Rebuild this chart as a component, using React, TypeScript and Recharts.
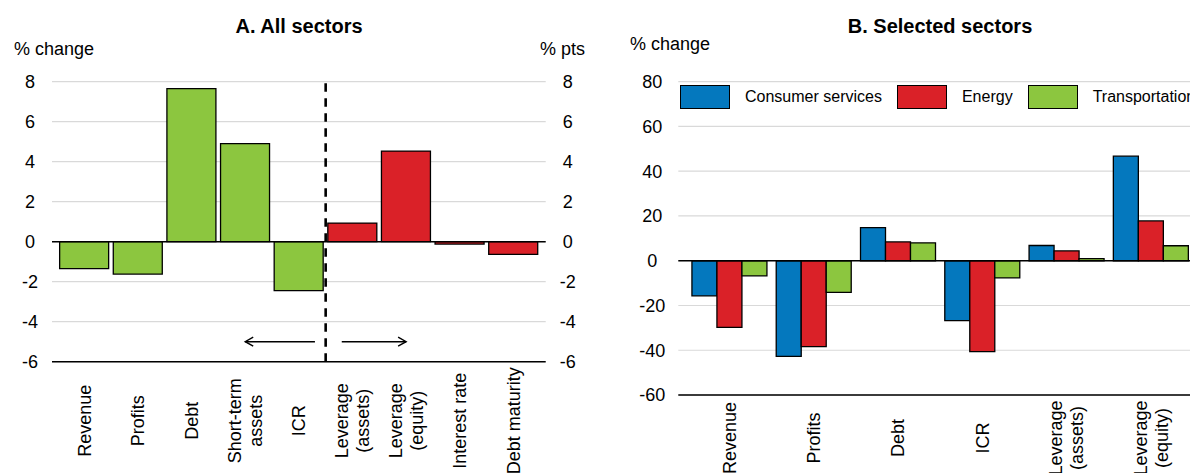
import {
  BarChart,
  Bar,
  Cell,
  XAxis,
  YAxis,
  CartesianGrid,
  ReferenceLine,
  Legend,
} from "recharts";

const FONT = '"Liberation Sans", Arial, Helvetica, sans-serif';
const GREEN = "#8CC63F";
const RED = "#DA2128";
const BLUE = "#0478BE";
const GRID = "#D9D9D9";

// Panel A: all sectors
const categoriesA = [
  "Revenue",
  "Profits",
  "Debt",
  "Short-term\nassets",
  "ICR",
  "Leverage\n(assets)",
  "Leverage\n(equity)",
  "Interest rate",
  "Debt maturity",
];
const valuesA = [-1.35, -1.62, 7.65, 4.9, -2.45, 0.93, 4.53, -0.12, -0.63];
const unitsA = ["chg", "chg", "chg", "chg", "chg", "pts", "pts", "pts", "pts"];
const ticksA = [-6, -4, -2, 0, 2, 4, 6, 8];

// Panel B: selected sectors
const categoriesB = [
  "Revenue",
  "Profits",
  "Debt",
  "ICR",
  "Leverage\n(assets)",
  "Leverage\n(equity)",
];
const consumerServices = [-15.7, -42.7, 14.8, -26.8, 6.8, 46.7];
const energy = [-29.8, -38.4, 8.4, -40.6, 4.4, 17.8];
const transportation = [-6.8, -14.1, 8.0, -7.7, 0.9, 6.7];
const ticksB = [-60, -40, -20, 0, 20, 40, 60, 80];

// the dashed divider sits where the % pts group starts
const firstPts = categoriesA[unitsA.indexOf("pts")];
const ARROW_Y = -5;

const dataA = categoriesA.map((name, i) => ({ name, value: valuesA[i], unit: unitsA[i] }));
const dataB = categoriesB.map((name, i) => ({
  name,
  consumer: consumerServices[i],
  energy: energy[i],
  transport: transportation[i],
}));

function YTick(props: any) {
  const { x, y, payload } = props;
  return (
    <text x={x} y={y} dy="0.35em" textAnchor="middle" fontSize={18} fontFamily={FONT} fill="#000">
      {payload.value}
    </text>
  );
}

// rotated category label, centred on a point below the axis
function makeCategoryTick(drop: number) {
  return function CategoryTick(props: any) {
    const { x, y, payload } = props;
    const lines = String(payload.value).split("\n");
    const lh = 21;
    return (
      <g transform={`translate(${x},${y + drop}) rotate(-90)`}>
        <text textAnchor="middle" fontSize={18} fontFamily={FONT} fill="#000">
          {lines.map((l, i) => (
            <tspan key={i} x={0} y={(i - (lines.length - 1) / 2) * lh} dy="0.35em">
              {l}
            </tspan>
          ))}
        </text>
      </g>
    );
  };
}

// arrow from (x1,y1) to (x2,y2); the tail is pushed back by a share of the length
function makeArrow(extendTail: number) {
  return function ArrowLine(props: any) {
    const { x1, y1, x2, y2 } = props;
    const sx = x1 + (x1 - x2) * extendTail;
    const dir = Math.sign(x2 - x1) || 1;
    return (
      <g>
        <line x1={sx} y1={y1} x2={x2} y2={y2} stroke="#000" strokeWidth={1.4} />
        <polyline
          points={`${x2 - dir * 8},${y2 - 4.5} ${x2},${y2} ${x2 - dir * 8},${y2 + 4.5}`}
          fill="none"
          stroke="#000"
          strokeWidth={1.4}
        />
      </g>
    );
  };
}

function LegendBoxes(props: any) {
  const { payload } = props;
  return (
    <div style={{ display: "flex", alignItems: "center", whiteSpace: "nowrap", fontFamily: FONT }}>
      {(payload || []).map((entry: any, i: number) => (
        <div key={i} style={{ display: "flex", alignItems: "center", marginRight: 15 }}>
          <div
            style={{
              width: 48,
              height: 22,
              background: entry.color,
              border: "1.5px solid #000",
            }}
          />
          <span style={{ marginLeft: 15, fontSize: 16, color: "#000" }}>{entry.value}</span>
        </div>
      ))}
    </div>
  );
}

function PanelA() {
  return (
    <BarChart
      width={600}
      height={473}
      data={dataA}
      margin={{ top: 81.7, right: 24.3, bottom: 51.3, left: 22 }}
      barCategoryGap="4%"
    >
      <CartesianGrid vertical={false} stroke={GRID} strokeWidth={1.2} />
      <XAxis
        dataKey="name"
        interval={0}
        height={60}
        padding={{ left: 5.5, right: 5.5 }}
        tickLine={false}
        tickSize={0}
        tickMargin={0}
        axisLine={{ stroke: "#000", strokeWidth: 1.5 }}
        tick={makeCategoryTick(59)}
      />
      <YAxis
        domain={[-6, 8]}
        ticks={ticksA}
        width={30}
        axisLine={false}
        tickLine={false}
        tickSize={0}
        tickMargin={22}
        tick={<YTick />}
      />
      <YAxis
        yAxisId="right"
        orientation="right"
        domain={[-6, 8]}
        allowDataOverflow
        ticks={ticksA}
        width={30}
        axisLine={false}
        tickLine={false}
        tickSize={0}
        tickMargin={22}
        tick={<YTick />}
      />
      <Bar dataKey="value" stroke="#000" strokeWidth={1.3} isAnimationActive={false}>
        {dataA.map((d, i) => (
          <Cell key={i} fill={d.unit === "chg" ? GREEN : RED} />
        ))}
      </Bar>
      <ReferenceLine yAxisId="right" y={0} stroke="#000" strokeWidth={1.6} />
      <ReferenceLine
        x={firstPts}
        position="start"
        stroke="#000"
        strokeWidth={2.6}
        strokeDasharray="8.5 6.5"
      />
      <ReferenceLine
        segment={[
          { x: "ICR", y: ARROW_Y },
          { x: "Short-term\nassets", y: ARROW_Y },
        ]}
        shape={makeArrow(0.3)}
      />
      <ReferenceLine
        segment={[
          { x: "Leverage\n(assets)", y: ARROW_Y },
          { x: "Leverage\n(equity)", y: ARROW_Y },
        ]}
        shape={makeArrow(0.2)}
      />
    </BarChart>
  );
}

function PanelB() {
  return (
    <BarChart
      width={620}
      height={473}
      data={dataB}
      margin={{ top: 81.7, right: 18, bottom: 18, left: 28.3 }}
      barCategoryGap="5.5%"
      barGap={0}
    >
      <CartesianGrid vertical={false} stroke={GRID} strokeWidth={1.2} />
      <XAxis
        dataKey="name"
        interval={0}
        height={60}
        padding={{ left: 9, right: 9 }}
        tickLine={false}
        tickSize={0}
        tickMargin={0}
        axisLine={{ stroke: "#000", strokeWidth: 1.5 }}
        tick={makeCategoryTick(43)}
      />
      <YAxis
        domain={[-60, 80]}
        ticks={ticksB}
        width={50}
        axisLine={false}
        tickLine={false}
        tickSize={0}
        tickMargin={26}
        tick={<YTick />}
      />
      <Legend
        layout="horizontal"
        verticalAlign="middle"
        align="center"
        content={<LegendBoxes />}
        wrapperStyle={{ position: "absolute", left: 80, top: 85, width: 700 }}
      />
      <Bar dataKey="consumer" name="Consumer services" fill={BLUE} stroke="#000" strokeWidth={1.3} isAnimationActive={false} />
      <Bar dataKey="energy" name="Energy" fill={RED} stroke="#000" strokeWidth={1.3} isAnimationActive={false} />
      <Bar dataKey="transport" name="Transportation" fill={GREEN} stroke="#000" strokeWidth={1.3} isAnimationActive={false} />
      <ReferenceLine y={0} stroke="#000" strokeWidth={1.6} />
    </BarChart>
  );
}

export default function App() {
  return (
    <div
      style={{
        position: "absolute",
        left: 0,
        top: 0,
        width: 1190,
        height: 473,
        overflow: "hidden",
        background: "#fff",
      }}
    >
      <div style={{ position: "absolute", left: 0, top: 0 }}>
        <PanelA />
      </div>
      <div style={{ position: "absolute", left: 600, top: 0 }}>
        <PanelB />
      </div>
      <svg
        width={1190}
        height={473}
        style={{ position: "absolute", left: 0, top: 0, pointerEvents: "none" }}
        fontFamily={FONT}
      >
        <text x={299} y={33} textAnchor="middle" fontSize={20} fontWeight="bold" fill="#000">
          A. All sectors
        </text>
        <text x={14} y={55} fontSize={18} fill="#000">
          % change
        </text>
        <text x={585} y={55} textAnchor="end" fontSize={18} fill="#000">
          % pts
        </text>
        <text x={940} y={33} textAnchor="middle" fontSize={20} fontWeight="bold" fill="#000">
          B. Selected sectors
        </text>
        <text x={630} y={50} fontSize={18} fill="#000">
          % change
        </text>
      </svg>
    </div>
  );
}
